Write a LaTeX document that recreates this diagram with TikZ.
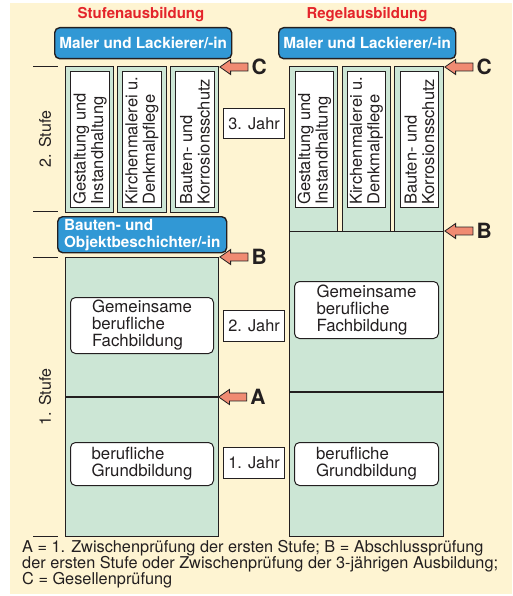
\documentclass[tikz,border=0pt]{standalone}
\usepackage{fontspec}
\setmainfont{TeX Gyre Heros}
\usetikzlibrary{positioning}
\usetikzlibrary{shapes.arrows}

\definecolor{creme}{HTML}{FEF4D2}
\definecolor{blau}{HTML}{3198D5}
\definecolor{gruen}{HTML}{CCE6D5}
\definecolor{lachs}{HTML}{F08B72}
\definecolor{dunkel}{HTML}{231F20}
\definecolor{titelrot}{HTML}{E4242B}

\tikzset{
  feld/.style={anchor=north west,inner sep=0pt,text=dunkel},
  beruf/.style={feld,draw=dunkel,line width=1.4pt,fill=blau,rounded corners=5pt,text=white,font=\fontsize{15.3}{17}\selectfont\bfseries},
  spalte/.style={feld,draw=dunkel,line width=1.2pt,fill=gruen},
  innen/.style={feld,draw=dunkel,line width=1pt,fill=white},
  inhalt/.style={feld,draw=dunkel,line width=1pt,fill=white,rounded corners=5pt,align=left,font=\fontsize{16.8}{17}\selectfont},
  jahr/.style={feld,draw=dunkel,line width=1.2pt,fill=white,font=\fontsize{16.3}{18}\selectfont},
  quer/.style={rotate=90,anchor=west,inner sep=0pt,align=left,text=dunkel,font=\fontsize{16.5}{17.5}\selectfont},
  titel/.style={text=titelrot,font=\fontsize{15}{17}\selectfont\bfseries},
  stufe/.style={rotate=90,text=dunkel,font=\fontsize{16}{18}\selectfont},
  strich/.style={draw=dunkel,line width=1pt},
  pfeil/.style={single arrow,draw=dunkel,line width=0.8pt,fill=lachs,shape border rotate=180,
    minimum width=15pt,minimum height=28pt,inner sep=3.5pt,single arrow head extend=3.5pt,
    single arrow tip angle=70,anchor=tip},
  marke/.style={inner sep=0pt,text=dunkel,font=\fontsize{21}{21}\selectfont\bfseries},
}

\begin{document}
\begin{tikzpicture}[x=1pt,y=-1pt]
    \useasboundingbox (0,0) rectangle (512,596);
    \fill[creme] (10,3) rectangle (512,594);

    % Ueberschriften
    \node[titel] (titelL) at (141,15) {Stufenausbildung};
    \node[titel] (titelR) at (367,15) {Regelausbildung};

    \node[beruf,minimum width=177pt,minimum height=31pt] (malerL) at (54,27) {Maler und Lackierer/-in};
    \node[beruf,minimum width=177pt,minimum height=31pt] (malerR) at (278,27) {Maler und Lackierer/-in};

    % Stufenausbildung, 2. Stufe
    \node[spalte,minimum width=48pt,minimum height=146pt] (spL1) at (65,66) {};
    \node[spalte,minimum width=49pt,minimum height=146pt] (spL2) at (117,66) {};
    \node[spalte,minimum width=48pt,minimum height=146pt] (spL3) at (170,66) {};
    \node[innen,minimum width=39pt,minimum height=136pt] (inL1) at (70,71) {};
    \node[innen,minimum width=39pt,minimum height=136pt] (inL2) at (122,71) {};
    \node[innen,minimum width=39pt,minimum height=136pt] (inL3) at (175,71) {};
    \node[quer] (txL1) at ([yshift=3pt]inL1.south) {Gestaltung und\\Instandhaltung};
    \node[quer] (txL2) at ([yshift=3pt]inL2.south) {Kirchenmalerei u.\\Denkmalpflege};
    \node[quer] (txL3) at ([yshift=3pt]inL3.south) {Bauten- und\\Korrosionsschutz};

    \node[beruf,align=left,minimum width=169pt,minimum height=36pt] (bautenL) at (57,216) {Bauten- und\\Objektbeschichter/-in};

    % Stufenausbildung, 1. Stufe
    \node[spalte,minimum width=153pt,minimum height=279pt] (blockL) at (65,257) {};
    \coordinate (teilL) at (218,397);
    \draw[strich,line width=1.2pt] (blockL.west |- teilL) -- (teilL);
    \node[inhalt,minimum width=143pt,minimum height=56pt] (fachL) at (70,297) {Gemeinsame\\berufliche\\Fachbildung};
    \node[inhalt,minimum width=143pt,minimum height=43pt] (grundL) at (70,442) {berufliche\\Grundbildung};

    % Stufen links
    \draw[strich] (33,67) -- (58,67);
    \draw[strich] (33,211) -- (58,211);
    \draw[strich] (33,257) -- (58,257);
    \draw[strich] (33,536) -- (58,536);
    \node[stufe] (stufe2) at (45,139) {2. Stufe};
    \node[stufe] (stufe1) at (45,397) {1. Stufe};

    % Jahre
    \node[jahr,minimum width=61pt,minimum height=30pt] (jahr3) at (223,108) {3. Jahr};
    \node[jahr,minimum width=61pt,minimum height=31pt] (jahr2) at (223,310) {2. Jahr};
    \node[jahr,minimum width=61pt,minimum height=31pt] (jahr1) at (223,447) {1. Jahr};

    % Regelausbildung
    \node[spalte,minimum width=48pt,minimum height=165pt] (spR1) at (289,66) {};
    \node[spalte,minimum width=48pt,minimum height=165pt] (spR2) at (342,66) {};
    \node[spalte,minimum width=49pt,minimum height=165pt] (spR3) at (394,66) {};
    \node[innen,minimum width=38pt,minimum height=136pt] (inR1) at (295,71) {};
    \node[innen,minimum width=38pt,minimum height=136pt] (inR2) at (347,71) {};
    \node[innen,minimum width=38pt,minimum height=136pt] (inR3) at (400,71) {};
    \node[quer] (txR1) at ([yshift=3pt]inR1.south) {Gestaltung und\\Instandhaltung};
    \node[quer] (txR2) at ([yshift=3pt]inR2.south) {Kirchenmalerei u.\\Denkmalpflege};
    \node[quer] (txR3) at ([yshift=3pt]inR3.south) {Bauten- und\\Korrosionsschutz};

    \node[spalte,minimum width=154pt,minimum height=305pt] (blockR) at (289,231) {};
    \coordinate (teilR) at (443,392);
    \draw[strich,line width=1.2pt] (blockR.west |- teilR) -- (teilR);
    \node[inhalt,minimum width=144pt,minimum height=57pt] (fachR) at (294,281) {Gemeinsame\\berufliche\\Fachbildung};
    \node[inhalt,minimum width=144pt,minimum height=43pt] (grundR) at (294,442) {berufliche\\Grundbildung};

    % Pruefungen
    \node[pfeil] (pfCL) at ([yshift=-1pt]spL3.north east) {};
    \node[pfeil] (pfBL) at (blockL.north east) {};
    \node[pfeil] (pfAL) at (teilL) {};
    \node[pfeil] (pfCR) at ([yshift=-1pt]spR3.north east) {};
    \node[pfeil] (pfBR) at (blockR.north east) {};
    \node[marke,right=3pt of pfCL] (mCL) {C};
    \node[marke,right=3pt of pfBL] (mBL) {B};
    \node[marke,right=3pt of pfAL] (mAL) {A};
    \node[marke,right=3pt of pfCR] (mCR) {C};
    \node[marke,right=3pt of pfBR] (mBR) {B};

    % Legende
    \node[anchor=north west,inner sep=0pt,align=left,text=dunkel,font=\fontsize{16.3}{16}\selectfont] (legende) at (22,540)
      {A = 1. Zwischenprüfung der ersten Stufe; B = Abschlussprüfung\\
       der ersten Stufe oder Zwischenprüfung der 3-jährigen Ausbildung;\\
       C = Gesellenprüfung};
\end{tikzpicture}
\end{document}
